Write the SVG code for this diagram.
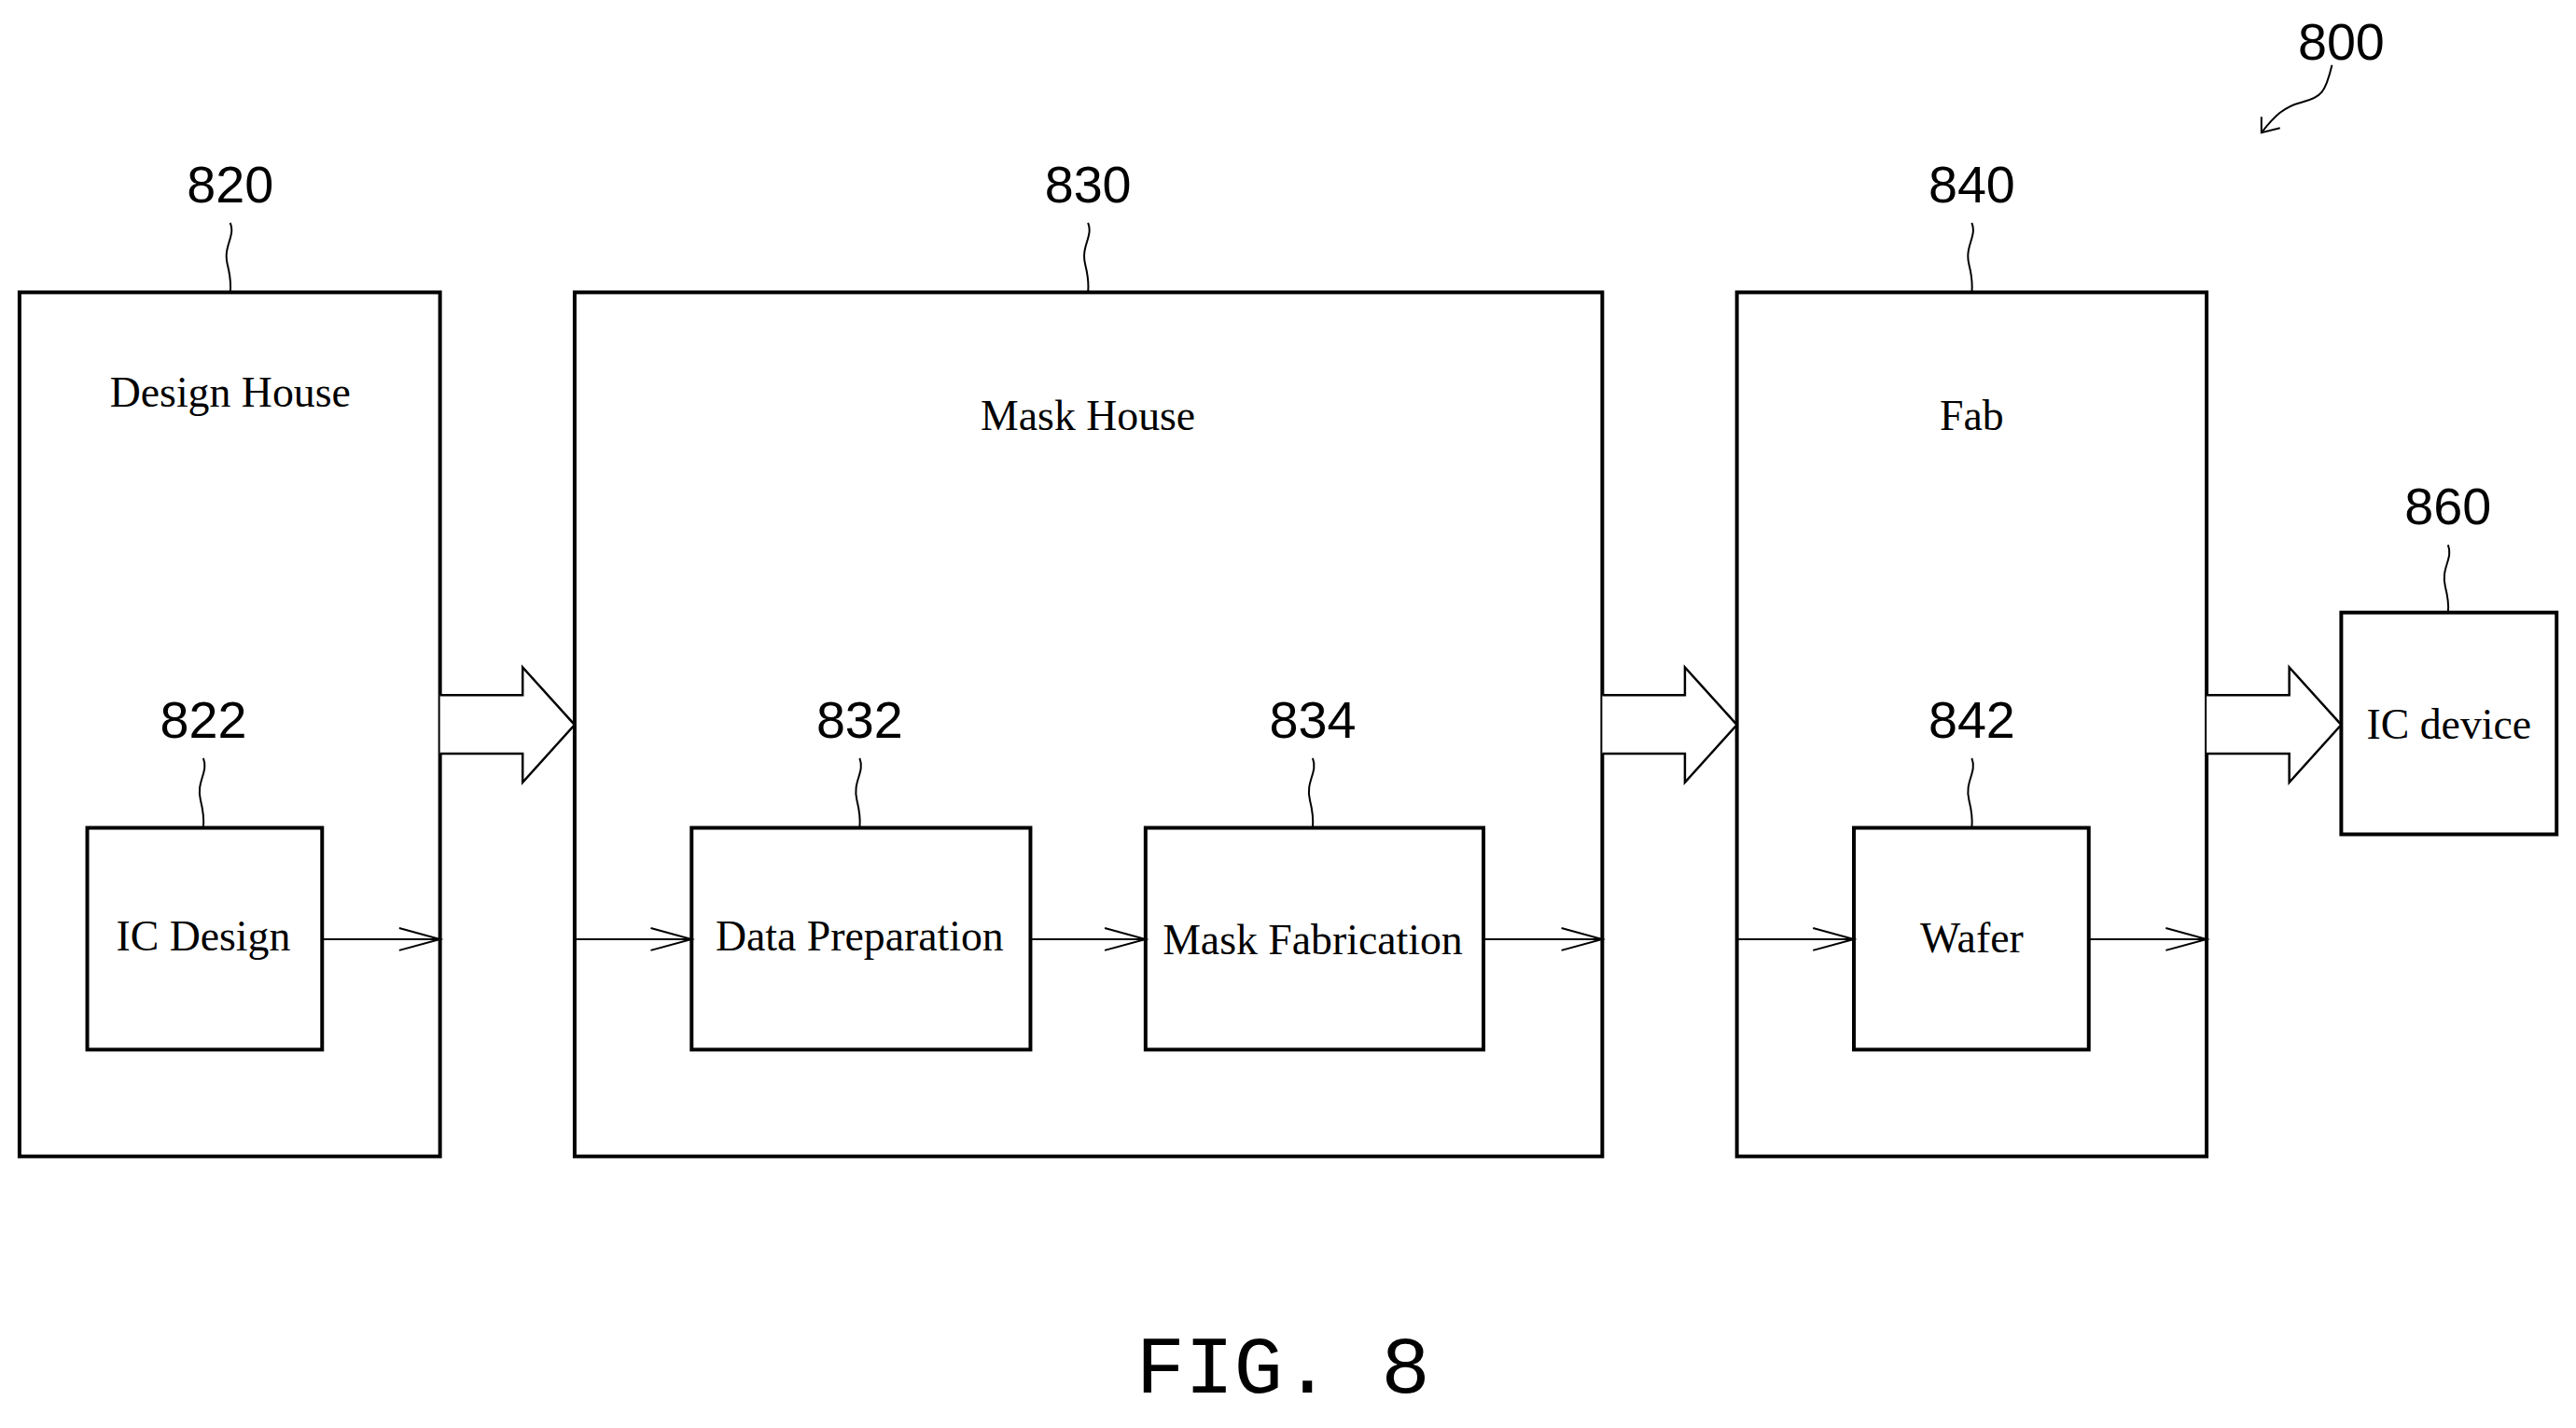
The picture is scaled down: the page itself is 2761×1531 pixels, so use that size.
<svg xmlns="http://www.w3.org/2000/svg" width="2761" height="1531" viewBox="0 0 2761 1531">
<style>
.box{fill:none;stroke:#000;stroke-width:4}
.ln{fill:none;stroke:#000;stroke-width:2}
.big{fill:#fff;stroke:#000;stroke-width:2.5}
.t{font-family:"Liberation Serif",serif;font-size:46px;text-anchor:middle;fill:#000}
.n{font-family:"Liberation Sans",sans-serif;font-size:56px;text-anchor:middle;fill:#000}
</style>
<defs>
<marker id="ah" markerWidth="50" markerHeight="30" refX="46" refY="14" orient="auto" markerUnits="userSpaceOnUse">
<path d="M2,2 L46,14 L2,26" fill="none" stroke="#000" stroke-width="2"/>
</marker>
</defs>
<rect width="2761" height="1531" fill="#fff"/>
<g transform="scale(0.995)">
<g id="n800">
<text class="n" x="2522" y="64">800</text>
<path class="ln" d="M2512,70 C2505,100 2500,105 2480,110 C2460,115 2450,125 2436,143" />
<path class="ln" d="M2436,126 L2436,143 L2456,138"/>
</g>
<g id="n820">
<rect class="box" x="21" y="315" width="453" height="931"/>
<text class="t" x="248" y="438">Design House</text>
<text class="n" x="248" y="218">820</text>
<path class="ln" d="M248,240 c6,15 -8,25 -3,45 c3,12 4,20 3,30"/>
</g>
<g id="n822">
<rect class="box" x="94" y="892" width="253" height="239"/>
<text class="t" x="219" y="1024">IC Design</text>
<text class="n" x="219" y="795">822</text>
<path class="ln" d="M219,817 c6,15 -8,25 -3,45 c3,12 4,20 3,30"/>
</g>
<g id="n830">
<rect class="box" x="619" y="315" width="1107" height="931"/>
<text class="t" x="1172" y="463">Mask House</text>
<text class="n" x="1172" y="218">830</text>
<path class="ln" d="M1172,240 c6,15 -8,25 -3,45 c3,12 4,20 3,30"/>
</g>
<g id="n832">
<rect class="box" x="745" y="892" width="365" height="239"/>
<text class="t" x="926" y="1024">Data Preparation</text>
<text class="n" x="926" y="795">832</text>
<path class="ln" d="M926,817 c6,15 -8,25 -3,45 c3,12 4,20 3,30"/>
</g>
<g id="n834">
<rect class="box" x="1234" y="892" width="364" height="239"/>
<text class="t" x="1414" y="1028">Mask Fabrication</text>
<text class="n" x="1414" y="795">834</text>
<path class="ln" d="M1414,817 c6,15 -8,25 -3,45 c3,12 4,20 3,30"/>
</g>
<g id="n840">
<rect class="box" x="1871" y="315" width="506" height="931"/>
<text class="t" x="2124" y="463">Fab</text>
<text class="n" x="2124" y="218">840</text>
<path class="ln" d="M2124,240 c6,15 -8,25 -3,45 c3,12 4,20 3,30"/>
</g>
<g id="n842">
<rect class="box" x="1997" y="892" width="253" height="239"/>
<text class="t" x="2124" y="1026">Wafer</text>
<text class="n" x="2124" y="795">842</text>
<path class="ln" d="M2124,817 c6,15 -8,25 -3,45 c3,12 4,20 3,30"/>
</g>
<g id="n860">
<rect class="box" x="2522" y="660" width="232" height="239"/>
<text class="t" x="2638" y="796">IC device</text>
<text class="n" x="2637" y="565">860</text>
<path class="ln" d="M2637,587 c6,15 -8,25 -3,45 c3,12 4,20 3,28"/>
</g>
<g id="connectors">
<line class="ln" x1="347" y1="1012" x2="474" y2="1012" marker-end="url(#ah)"/>
<line class="ln" x1="619" y1="1012" x2="745" y2="1012" marker-end="url(#ah)"/>
<line class="ln" x1="1110" y1="1012" x2="1234" y2="1012" marker-end="url(#ah)"/>
<line class="ln" x1="1598" y1="1012" x2="1726" y2="1012" marker-end="url(#ah)"/>
<line class="ln" x1="1871" y1="1012" x2="1997" y2="1012" marker-end="url(#ah)"/>
<line class="ln" x1="2250" y1="1012" x2="2377" y2="1012" marker-end="url(#ah)"/>
<path class="big" d="M474,749 H563 V719 L619,781 L563,843 V812 H474"/>
<path class="big" d="M1726,749 H1815 V719 L1871,781 L1815,843 V812 H1726"/>
<path class="big" d="M2377,749 H2466 V719 L2522,781 L2466,843 V812 H2377"/>
</g>
<text x="1382" y="1500" style="font-family:'Liberation Mono',monospace;font-size:88px;text-anchor:middle;fill:#000">FIG. 8</text>
</g>
</svg>
